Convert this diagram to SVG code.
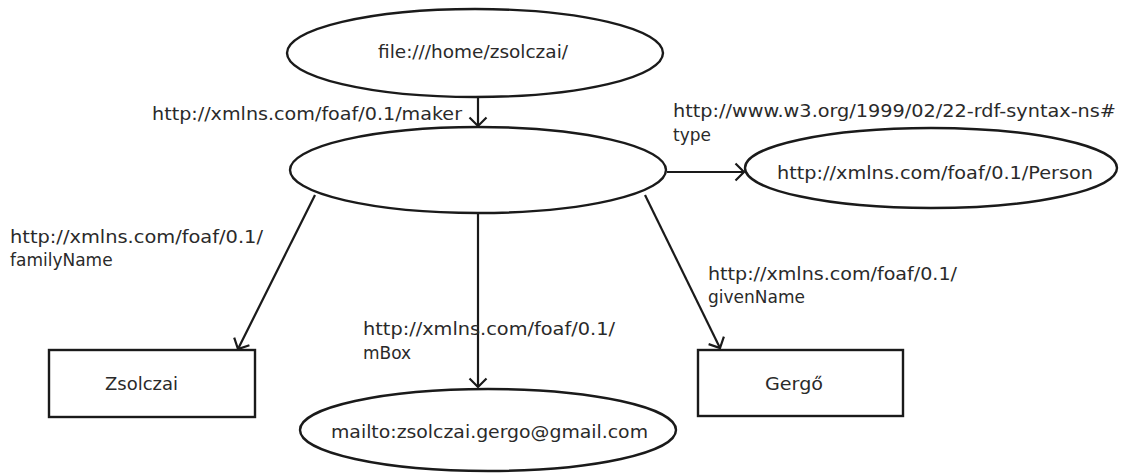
<svg xmlns="http://www.w3.org/2000/svg" width="1121" height="473" viewBox="0 0 1121 473">
<style>
.n{fill:#fff;stroke:#1a1a1a;stroke-width:2.4}
.t{font-family:"DejaVu Sans",sans-serif;font-size:17px;fill:#2a2a2a}
.e{stroke:#1a1a1a;stroke-width:2.2;fill:none;marker-end:url(#a)}
</style>
<defs>
<marker id="a" markerUnits="userSpaceOnUse" markerWidth="20" markerHeight="20" refX="10" refY="10" orient="auto" viewBox="0 0 20 20">
<path d="M1.5,1.5 L10,10 L1.5,18.5" fill="none" stroke="#1a1a1a" stroke-width="2.2"/>
</marker>
</defs>
<rect width="1121" height="473" fill="#fff"/>
<g id="connectors">
<line class="e" x1="478" y1="96" x2="478" y2="126"/>
<line class="e" x1="667" y1="172" x2="744" y2="172"/>
<line class="e" x1="315" y1="195" x2="238" y2="349"/>
<line class="e" x1="478" y1="213" x2="478" y2="387"/>
<line class="e" x1="645" y1="195" x2="720" y2="348"/>
</g>
<g id="labels">
<text class="t" x="152" y="120" textLength="310" lengthAdjust="spacingAndGlyphs">http://xmlns.com/foaf/0.1/maker</text>
<text class="t" x="673" y="117" textLength="443" lengthAdjust="spacingAndGlyphs">http://www.w3.org/1999/02/22-rdf-syntax-ns#</text>
<text class="t" x="673" y="141">type</text>
<text class="t" x="10" y="243" textLength="253" lengthAdjust="spacingAndGlyphs">http://xmlns.com/foaf/0.1/</text>
<text class="t" x="10" y="266">familyName</text>
<text class="t" x="363" y="335" textLength="252" lengthAdjust="spacingAndGlyphs">http://xmlns.com/foaf/0.1/</text>
<text class="t" x="363" y="359">mBox</text>
<text class="t" x="708" y="280" textLength="249" lengthAdjust="spacingAndGlyphs">http://xmlns.com/foaf/0.1/</text>
<text class="t" x="708" y="303">givenName</text>
</g>
<g id="file">
<ellipse class="n" cx="475" cy="53" rx="188" ry="44"/>
<text class="t" x="378" y="58" textLength="190" lengthAdjust="spacingAndGlyphs">file:///home/zsolczai/</text>
</g>
<g id="blank">
<ellipse class="n" cx="478" cy="170" rx="188" ry="43"/>
</g>
<g id="person">
<ellipse class="n" cx="931" cy="168" rx="186" ry="40"/>
<text class="t" x="777" y="179" textLength="316" lengthAdjust="spacingAndGlyphs">http://xmlns.com/foaf/0.1/Person</text>
</g>
<g id="zsolczai">
<rect class="n" x="49" y="350" width="206" height="67"/>
<text class="t" x="105" y="390" textLength="73" lengthAdjust="spacingAndGlyphs">Zsolczai</text>
</g>
<g id="gergo">
<rect class="n" x="698" y="350" width="205" height="66"/>
<text class="t" x="765" y="390" textLength="58" lengthAdjust="spacingAndGlyphs">Gergő</text>
</g>
<g id="mailto">
<ellipse class="n" cx="488" cy="430" rx="188" ry="41"/>
<text class="t" x="331" y="438" textLength="317" lengthAdjust="spacingAndGlyphs">mailto:zsolczai.gergo@gmail.com</text>
</g>
</svg>
